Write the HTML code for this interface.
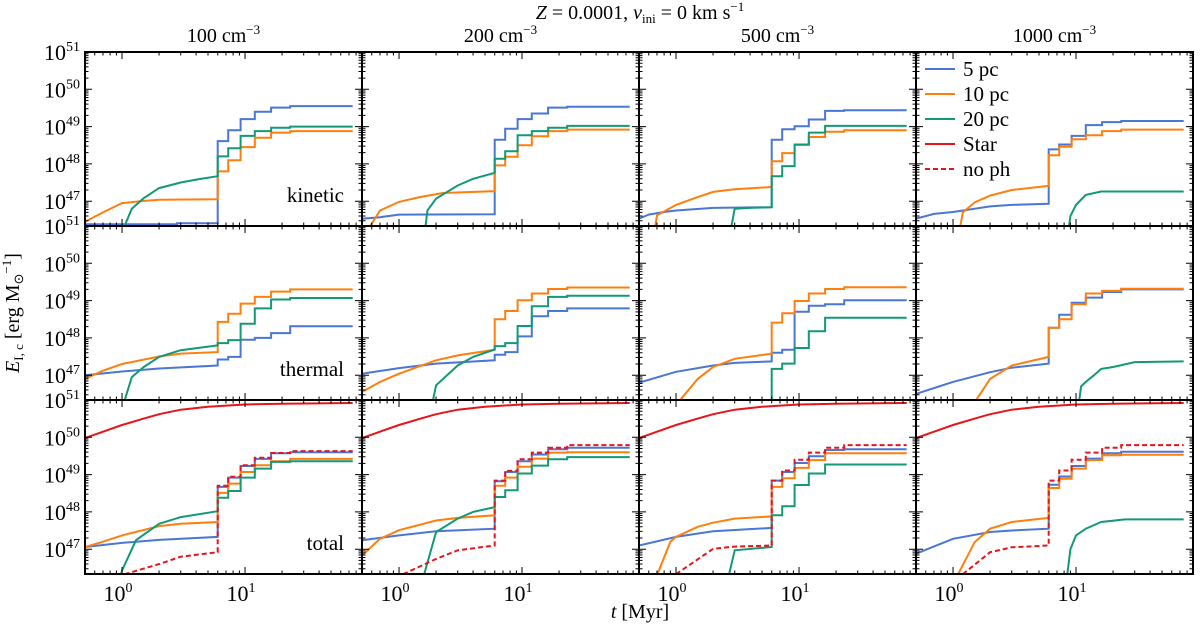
<!DOCTYPE html>
<html><head><meta charset="utf-8"><style>
html,body{margin:0;padding:0;background:#fff;}
svg{display:block;font-family:"Liberation Serif",serif;}
</style></head><body>
<svg id="fig" width="1200" height="626" viewBox="0 0 1200 626" xmlns="http://www.w3.org/2000/svg">
<text x="640" y="19" font-size="20" text-anchor="middle"><tspan font-style="italic">Z</tspan> = 0.0001, <tspan font-style="italic">v</tspan><tspan font-size="13" dy="4">ini</tspan><tspan dy="-4"> = 0 km s</tspan><tspan font-size="13" dy="-8">−1</tspan></text>
<text x="640" y="618" font-size="20" text-anchor="middle"><tspan font-style="italic">t</tspan> [Myr]</text>
<text transform="translate(19,313) rotate(-90)" font-size="20" text-anchor="middle"><tspan font-style="italic">E</tspan><tspan font-size="13" dy="4">I, c</tspan><tspan dy="-4"> [erg M</tspan><tspan font-size="13" dy="4">⊙</tspan><tspan font-size="13" dy="-12">−1</tspan><tspan dy="8">]</tspan></text>
<g id="plots"></g>
</svg>
<script>
const colTitles=["100","200","500","1000"];
const rowLabels=["kinetic","thermal","total"];
const stepTimes=[6.0,7.3,9.2,12,16.3,23.3];
const tEnd=75;
const starPts=[[0.5,49.98],[0.7,50.15],[1,50.33],[1.5,50.5],[2,50.62],[3,50.74],[5,50.82],[10,50.88],[20,50.9],[75,50.92]];

// column 1 (100 cm^-3)
const k1_blue_pre=[[0.5,46.38],[2.8,46.38],[2.8,46.41],[6,46.41]];
const k1_blue_post=[48.61,48.9,49.2,49.4,49.51,49.55];
const k1_orange_pre=[[0.5,46.45],[0.7,46.7],[1,46.95],[1.4,47.0],[2,47.04],[6,47.05]];
const k1_orange_post=[47.8,48.1,48.45,48.7,48.84,48.88];
const k1_green_pre=[[0.95,46.0],[1.2,46.8],[1.5,47.08],[2,47.35],[3,47.5],[4,47.58],[6,47.67]];
const k1_green_post=[48.2,48.42,48.75,48.88,48.97,49.0];
const t1_blue_pre=[[0.5,47.0],[1,47.1],[2,47.18],[6,47.26]];
const t1_blue_post=[47.42,47.49,47.95,48.0,48.13,48.31];
const t1_orange_pre=[[0.5,46.9],[0.7,47.12],[1,47.3],[2,47.5],[3,47.58],[6,47.62]];
const t1_orange_post=[48.43,48.65,48.92,49.1,49.24,49.3];
const t1_green_pre=[[0.98,46.0],[1.2,46.95],[1.5,47.22],[2,47.49],[3,47.67],[6,47.8]];
const t1_green_post=[47.86,47.94,48.38,48.79,49.03,49.07];
const a1_blue_pre=[[0.5,47.06],[1,47.17],[2,47.25],[6,47.33]];
const a1_blue_post=[48.67,48.92,49.23,49.42,49.57,49.6];
const a1_orange_pre=[[0.5,47.06],[0.7,47.2],[1,47.37],[2,47.62],[3,47.68],[6,47.73]];
const a1_orange_post=[48.51,48.76,49.07,49.25,49.36,49.42];
const a1_green_pre=[[0.93,46.0],[1.0,46.43],[1.3,47.24],[2,47.68],[3,47.86],[6,48.02]];
const a1_green_post=[48.38,48.56,48.92,49.16,49.34,49.36];
const a1_noph_pre=[[1.05,46.33],[2,46.6],[3,46.8],[6,46.92]];
const a1_noph_post=[48.7,48.94,49.25,49.45,49.58,49.63];

// column 2 (200 cm^-3)
const k2_blue_pre=[[0.5,46.53],[0.7,46.57],[1,46.64],[6,46.65]];
const k2_blue_post=[48.65,48.94,49.2,49.35,49.51,49.53];
const k2_orange_pre=[[0.55,46.2],[0.7,46.75],[1,46.98],[1.47,47.11],[2.27,47.22],[6,47.27]];
const k2_orange_post=[47.96,48.19,48.5,48.74,48.88,48.92];
const k2_green_pre=[[1.6,46.0],[1.7,46.75],[2,47.07],[3,47.42],[4,47.6],[6,47.76]];
const k2_green_post=[48.14,48.34,48.77,48.88,48.97,49.02];
const t2_blue_pre=[[0.5,47.04],[1,47.19],[2,47.31],[6,47.4]];
const t2_blue_post=[47.55,47.62,48.04,48.58,48.72,48.79];
const t2_orange_pre=[[0.5,46.55],[0.7,46.82],[1,47.04],[2,47.4],[3,47.53],[6,47.68]];
const t2_orange_post=[48.5,48.72,49.01,49.19,49.31,49.35];
const t2_green_pre=[[1.8,46.0],[2,46.73],[3,47.26],[4,47.49],[6,47.69]];
const t2_green_post=[47.78,47.86,48.32,48.85,49.1,49.13];
const a2_blue_pre=[[0.5,47.24],[1,47.37],[2,47.48],[6,47.55]];
const a2_blue_post=[48.82,49.07,49.36,49.54,49.68,49.72];
const a2_orange_pre=[[0.5,46.83],[0.7,47.28],[1,47.51],[2,47.77],[3,47.84],[6,47.91]];
const a2_orange_post=[48.7,48.92,49.21,49.43,49.59,49.6];
const a2_green_pre=[[1.5,46.0],[2,47.46],[3,47.82],[4,48.0],[6,48.13]];
const a2_green_post=[48.4,48.58,49.03,49.24,49.41,49.47];
const a2_noph_pre=[[1.08,46.33],[2,46.74],[3,46.97],[6,47.1]];
const a2_noph_post=[48.84,49.1,49.41,49.59,49.72,49.79];

// column 3 (500 cm^-3)
const k3_blue_pre=[[0.5,46.53],[0.6,46.64],[0.8,46.71],[1,46.75],[2,46.82],[6,46.84]];
const k3_blue_post=[48.65,48.93,49.01,49.19,49.42,49.44];
const k3_orange_pre=[[0.65,46.0],[0.7,46.62],[1,46.9],[1.5,47.11],[2,47.25],[3,47.32],[6,47.38]];
const k3_orange_post=[48.07,48.29,48.51,48.72,48.86,48.9];
const k3_green_pre=[[2.7,46.0],[3,46.8],[4,46.82],[6,46.84]];
const k3_green_post=[47.67,47.94,48.52,48.84,49.02,49.02];
const t3_blue_pre=[[0.5,46.8],[1,47.09],[2,47.26],[3,47.33],[6,47.37]];
const t3_blue_post=[47.6,47.68,48.7,48.86,48.9,49.01];
const t3_orange_pre=[[1.0,46.2],[1.5,46.9],[2,47.22],[3,47.44],[6,47.58]];
const t3_orange_post=[48.41,48.66,48.99,49.19,49.31,49.36];
const t3_green_pre=[[6,46.0]];
const t3_green_post=[47.17,47.31,47.73,48.18,48.54,48.54];
const a3_blue_pre=[[0.5,47.1],[1,47.33],[2,47.48],[6,47.57]];
const a3_blue_post=[48.84,49.07,49.31,49.49,49.66,49.68];
const a3_orange_pre=[[0.7,46.3],[0.9,47.2],[1,47.33],[1.5,47.6],[2,47.71],[3,47.82],[6,47.88]];
const a3_orange_post=[48.67,48.9,49.18,49.39,49.57,49.57];
const a3_green_pre=[[2.7,46.33],[3,46.97],[6,47.06]];
const a3_green_post=[47.91,48.15,48.72,49.03,49.27,49.27];
const a3_noph_pre=[[1.0,46.33],[2,47.01],[3,47.07],[6,47.1]];
const a3_noph_post=[48.84,49.11,49.4,49.59,49.72,49.79];

// column 4 (1000 cm^-3)
const k4_blue_pre=[[0.5,46.53],[0.7,46.66],[1,46.71],[2,46.86],[3,46.9],[6,46.93]];
const k4_blue_post=[48.39,48.52,48.75,49.04,49.12,49.15];
const k4_orange_pre=[[1.1,46.0],[1.2,46.7],[1.5,46.97],[2,47.15],[3,47.3],[6,47.41]];
const k4_orange_post=[48.23,48.46,48.66,48.77,48.88,48.92];
const k4_green_pre=[[8.5,46.0],[9,46.6],[10,46.9],[12,47.17],[16,47.26],[75,47.26]];
const k4_green_post=[];
const t4_blue_pre=[[0.5,46.5],[1,46.82],[2,47.08],[3,47.2],[6,47.31]];
const t4_blue_post=[48.27,48.62,48.94,49.08,49.23,49.3];
const t4_orange_pre=[[1.45,46.2],[2,46.9],[3,47.26],[6,47.49]];
const t4_orange_post=[48.27,48.5,48.9,49.19,49.26,49.32];
const t4_green_pre=[[10.5,46.2],[11,46.7],[12,46.82],[14,47.0],[16,47.17],[20,47.22],[30,47.35],[75,47.37]];
const t4_green_post=[];
const a4_blue_pre=[[0.5,46.88],[1,47.28],[2,47.46],[3,47.5],[6,47.55]];
const a4_blue_post=[48.73,48.95,49.23,49.43,49.57,49.61];
const a4_orange_pre=[[1.1,46.33],[1.5,47.19],[2,47.55],[3,47.73],[6,47.84]];
const a4_orange_post=[48.64,48.89,49.16,49.39,49.52,49.53];
const a4_green_pre=[[8.5,46.33],[9,47.0],[10,47.37],[12,47.55],[16,47.73],[25,47.8],[75,47.8]];
const a4_green_post=[];
const a4_noph_pre=[[1.2,46.33],[2,46.92],[3,47.05],[6,47.1]];
const a4_noph_post=[48.84,49.11,49.4,49.59,49.72,49.79];

const BLUE="#4a76d6",ORANGE="#ff7f0e",GREEN="#129a76",RED="#e8141b";
const panels=[
 [[[k1_blue_pre,k1_blue_post,BLUE],[k1_orange_pre,k1_orange_post,ORANGE],[k1_green_pre,k1_green_post,GREEN]],
  [[t1_blue_pre,t1_blue_post,BLUE],[t1_orange_pre,t1_orange_post,ORANGE],[t1_green_pre,t1_green_post,GREEN]],
  [[a1_blue_pre,a1_blue_post,BLUE],[a1_orange_pre,a1_orange_post,ORANGE],[a1_green_pre,a1_green_post,GREEN],[a1_noph_pre,a1_noph_post,RED,true]]],
 [[[k2_blue_pre,k2_blue_post,BLUE],[k2_orange_pre,k2_orange_post,ORANGE],[k2_green_pre,k2_green_post,GREEN]],
  [[t2_blue_pre,t2_blue_post,BLUE],[t2_orange_pre,t2_orange_post,ORANGE],[t2_green_pre,t2_green_post,GREEN]],
  [[a2_blue_pre,a2_blue_post,BLUE],[a2_orange_pre,a2_orange_post,ORANGE],[a2_green_pre,a2_green_post,GREEN],[a2_noph_pre,a2_noph_post,RED,true]]],
 [[[k3_blue_pre,k3_blue_post,BLUE],[k3_orange_pre,k3_orange_post,ORANGE],[k3_green_pre,k3_green_post,GREEN]],
  [[t3_blue_pre,t3_blue_post,BLUE],[t3_orange_pre,t3_orange_post,ORANGE],[t3_green_pre,t3_green_post,GREEN]],
  [[a3_blue_pre,a3_blue_post,BLUE],[a3_orange_pre,a3_orange_post,ORANGE],[a3_green_pre,a3_green_post,GREEN],[a3_noph_pre,a3_noph_post,RED,true]]],
 [[[k4_blue_pre,k4_blue_post,BLUE],[k4_orange_pre,k4_orange_post,ORANGE],[k4_green_pre,k4_green_post,GREEN]],
  [[t4_blue_pre,t4_blue_post,BLUE],[t4_orange_pre,t4_orange_post,ORANGE],[t4_green_pre,t4_green_post,GREEN]],
  [[a4_blue_pre,a4_blue_post,BLUE],[a4_orange_pre,a4_orange_post,ORANGE],[a4_green_pre,a4_green_post,GREEN],[a4_noph_pre,a4_noph_post,RED,true]]]
];

const NS="http://www.w3.org/2000/svg";
const colX=[85,362,639,916], PW=277, rowY=[52,226,400], PH=174;
const XMIN=Math.log10(0.5), XDEC=123, YDEC=37.3;
function xOf(t,c){return colX[c]+(Math.log10(t)-XMIN)*XDEC;}
function yOf(v,r){return rowY[r]+(51-v)*YDEC;}
const root=document.getElementById('plots');
function mk(tag,attrs,parent){const e=document.createElementNS(NS,tag);for(const k in attrs)e.setAttribute(k,attrs[k]);(parent||root).appendChild(e);return e;}

const defs=mk('defs',{});
for(let c=0;c<4;c++)for(let r=0;r<3;r++){
  const cp=mk('clipPath',{id:'cp'+c+r},defs);
  mk('rect',{x:colX[c],y:rowY[r],width:PW,height:PH},cp);
}

function seriesPoints(pre,post){
  const pts=pre.map(p=>[p[0],p[1]]);
  if(post.length){
    let prev=pts[pts.length-1][1];
    post.forEach((v,i)=>{pts.push([stepTimes[i],prev]);pts.push([stepTimes[i],v]);prev=v;});
    pts.push([tEnd,prev]);
  }
  return pts;
}

for(let c=0;c<4;c++){
  const ct=mk('text',{x:colX[c]+PW/2,y:42,'font-size':20,'text-anchor':'middle'});
  
  
  ct.innerHTML=colTitles[c]+' cm<tspan font-size="13" dy="-8">−3</tspan>';
  for(let r=0;r<3;r++){
    const g=mk('g',{});
    
    
    const dg=mk('g',{'clip-path':'url(#cp'+c+r+')'},g);
    if(r===2){
      const s=mk('polyline',{points:starPts.map(p=>xOf(p[0],c).toFixed(1)+','+yOf(p[1],r).toFixed(1)).join(' '),fill:'none',stroke:RED,'stroke-width':2},dg);
      
      
    }
    panels[c][r].forEach(s=>{
      const pts=seriesPoints(s[0],s[1]);
      const pl=mk('polyline',{points:pts.map(p=>xOf(p[0],c).toFixed(1)+','+yOf(p[1],r).toFixed(1)).join(' '),fill:'none',stroke:s[2],'stroke-width':2,'stroke-linejoin':'miter'},dg);
      if(s[3]){pl.setAttribute('stroke-dasharray','5,3');}
      
      
    });
    mk('rect',{x:colX[c],y:rowY[r],width:PW,height:PH,fill:'none',stroke:'#000','stroke-width':2},g);
    let d='';
    for(let e=46;e<=51;e++)for(let m=1;m<10;m++){
      const v=e+Math.log10(m); if(v<46.33||v>51) continue;
      const y=yOf(v,r), L=m===1?7:3.5;
      d+=`M${colX[c]},${y}h${L}M${colX[c]+PW},${y}h${-L}`;
    }
    for(let e=-1;e<=1;e++)for(let m=1;m<10;m++){
      const t=m*Math.pow(10,e); const x=xOf(t,c); if(x<colX[c]||x>colX[c]+PW)continue;
      const L=m===1?7:3.5;
      d+=`M${x},${rowY[r]+PH}v${-L}M${x},${rowY[r]}v${L}`;
    }
    mk('path',{d:d,stroke:'#000','stroke-width':1,fill:'none'},g);
    if(c===0){
      const lb=mk('text',{x:colX[c]+PW-18,y:rowY[r]+150,'font-size':21,'text-anchor':'end'},g);
      lb.textContent=rowLabels[r];
      
      
    }
  }
  [0,1].forEach(e=>{
    const tx=mk('text',{x:xOf(Math.pow(10,e),c)-4,y:601,'font-size':22,'text-anchor':'middle'});
    tx.innerHTML='10<tspan font-size="14" dy="-9">'+e+'</tspan>';
    
    
  });
}

for(let r=0;r<3;r++){
  for(let e=47;e<=51;e++){
    const ty=mk('text',{x:80,y:yOf(e,r)+8,'font-size':22,'text-anchor':'end'});
    ty.innerHTML='10<tspan font-size="14" dy="-9">'+e+'</tspan>';
    
    
  }
}
const legItems=[["5 pc",BLUE,false],["10 pc",ORANGE,false],["20 pc",GREEN,false],["Star",RED,false],["no ph",RED,true]];
const lg=mk('g',{});


legItems.forEach((it,i)=>{
  const y=69+i*25;
  const ln=mk('line',{x1:925,x2:955,y1:y,y2:y,stroke:it[1],'stroke-width':2},lg);
  if(it[2]) ln.setAttribute('stroke-dasharray','5,3');
  
  
  const tx=mk('text',{x:963,y:y+7,'font-size':21},lg);
  tx.textContent=it[0];
  
  
});
</script>
</body></html>
